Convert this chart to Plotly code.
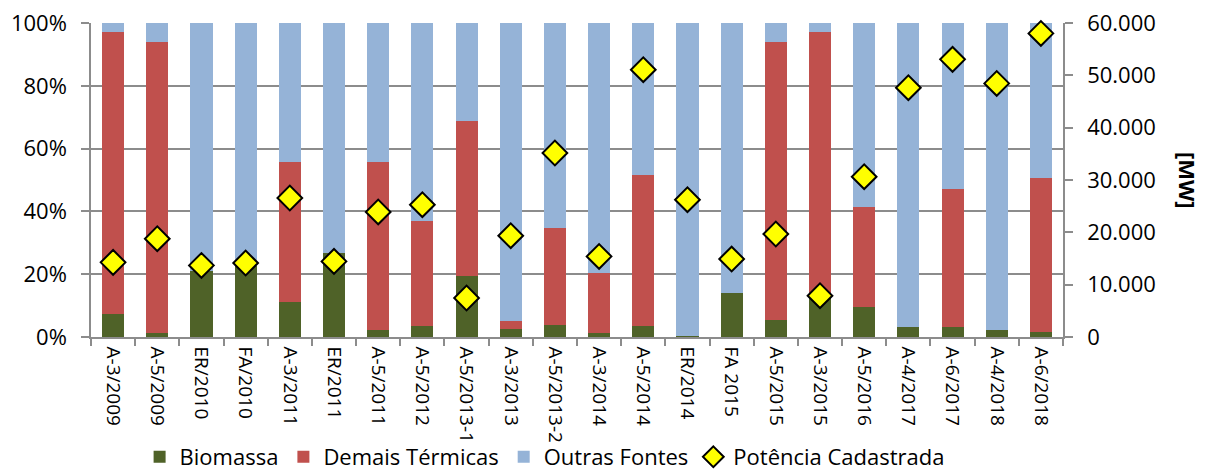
import plotly.graph_objects as go

# Leilões de energia: participação por fonte (%) e potência cadastrada (MW)
leiloes = ["A-3/2009", "A-5/2009", "ER/2010", "FA/2010", "A-3/2011", "ER/2011",
           "A-5/2011", "A-5/2012", "A-5/2013-1", "A-3/2013", "A-5/2013-2",
           "A-3/2014", "A-5/2014", "ER/2014", "FA 2015", "A-5/2015", "A-3/2015",
           "A-5/2016", "A-4/2017", "A-6/2017", "A-4/2018", "A-6/2018"]

biomassa = [7.2, 1.3, 20.9, 22.6, 11.0, 26.6, 2.1, 3.6, 19.5, 2.5, 3.7,
            1.3, 3.4, 0.4, 14.0, 5.5, 12.8, 9.7, 3.1, 3.1, 2.2, 1.6]
demais_termicas = [89.8, 92.7, 0.0, 0.0, 44.7, 0.0, 53.7, 33.4, 49.4, 2.5, 30.9,
                   19.2, 48.1, 0.0, 0.0, 88.5, 84.3, 31.6, 0.0, 44.1, 0.0, 49.1]
outras_fontes = [3.0, 6.0, 79.1, 77.4, 44.3, 73.4, 44.2, 63.0, 31.1, 95.0, 65.4,
                 79.5, 48.5, 99.6, 86.0, 6.0, 2.9, 58.7, 96.9, 52.8, 97.8, 49.3]
potencia_mw = [14260, 18780, 13680, 14140, 26560, 14450, 23890, 25280, 7450, 19360,
               35160, 15400, 51080, 26240, 14900, 19680, 7890, 30630, 47640, 53050,
               48460, 58010]

FONT = "Open Sans"
GRID = "#8c8c8c"

fig = go.Figure()
fig.add_trace(go.Bar(x=leiloes, y=biomassa, name="Biomassa",
                     marker=dict(color="#4F6228", line=dict(width=0))))
fig.add_trace(go.Bar(x=leiloes, y=demais_termicas, name="Demais Térmicas",
                     marker=dict(color="#C0504D", line=dict(width=0))))
fig.add_trace(go.Bar(x=leiloes, y=outras_fontes, name="Outras Fontes",
                     marker=dict(color="#95B3D7", line=dict(width=0))))
fig.add_trace(go.Scatter(x=leiloes, y=potencia_mw, name="Potência Cadastrada",
                         mode="markers", yaxis="y2", cliponaxis=False,
                         marker=dict(symbol="diamond", size=19, color="#FFFF00",
                                     line=dict(color="black", width=2))))

fig.update_layout(
    width=1207, height=476,
    margin=dict(l=91, r=144, t=23, b=139, pad=0, autoexpand=False),
    barmode="stack", bargap=0.5,
    plot_bgcolor="white", paper_bgcolor="white",
    separators=",.",
    font=dict(family=FONT, color="black", size=18),
    showlegend=True,
    legend=dict(orientation="h", x=0.05, xanchor="left", y=-0.382, yanchor="middle",
                font=dict(family=FONT, size=22), traceorder="normal",
                itemwidth=30, bgcolor="rgba(0,0,0,0)"),
    xaxis=dict(type="category", range=[-0.5, len(leiloes) - 0.5],
               tickson="boundaries", ticks="outside", ticklen=7,
               tickcolor=GRID, tickwidth=1.5, showline=True, linecolor=GRID,
               linewidth=1.5, showgrid=False, tickangle=90, automargin=False,
               ticklabelstandoff=4, tickfont=dict(family=FONT, size=19)),
    yaxis=dict(range=[0, 100], dtick=20, ticksuffix="%", ticks="outside", ticklen=8,
               tickcolor=GRID, tickwidth=1.5, showline=True, linecolor=GRID,
               linewidth=1.5, showgrid=True, gridcolor=GRID, gridwidth=1.5,
               zeroline=False, ticklabelstandoff=10, automargin=False,
               tickfont=dict(family=FONT, size=22)),
    yaxis2=dict(range=[0, 60000], dtick=10000, tickformat=",d", overlaying="y",
                side="right", ticks="outside", ticklen=8, tickcolor=GRID,
                tickwidth=1.5, showline=True, linecolor=GRID, linewidth=1.5,
                showgrid=False, zeroline=False, ticklabelstandoff=10,
                automargin=False, tickfont=dict(family=FONT, size=22)),
)

fig.add_annotation(text="<b>[MW]</b>", xref="paper", yref="paper",
                   x=1.0 + (1188 - 1063) / 972, y=0.5, xanchor="center",
                   yanchor="middle", textangle=90, showarrow=False,
                   font=dict(family=FONT, size=22, color="black"))

fig.write_html("out.html")
